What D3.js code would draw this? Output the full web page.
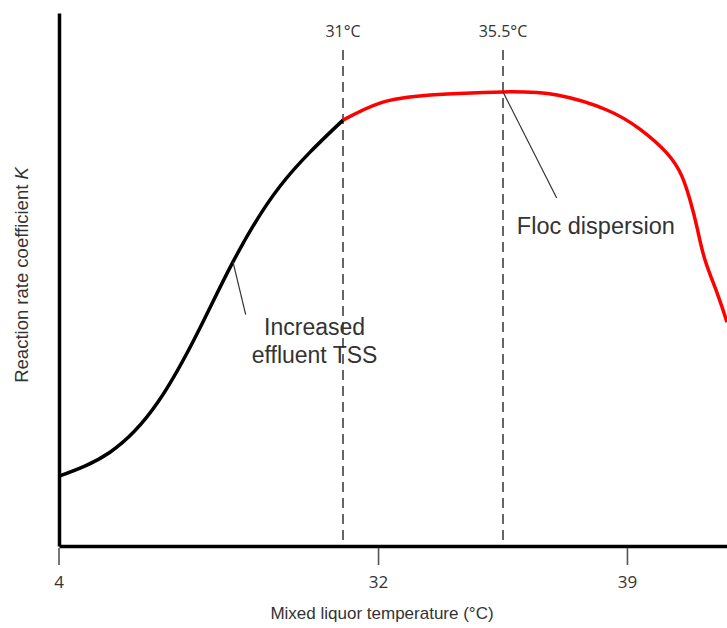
<!DOCTYPE html>
<html>
<head>
<meta charset="utf-8">
<script src="https://cdn.jsdelivr.net/npm/d3@7"></script>
<style>
  body { margin: 0; background: #fff; }
  svg { display: block; }
  .label { font-family: "Liberation Sans", Arial, sans-serif; fill: #333; }
  .tick-label { font-family: "Open Sans", sans-serif; fill: #333; }
</style>
</head>
<body>
<svg id="chart"></svg>
<script>
// Reaction rate vs temperature (schematic)

const width = 727;
const height = 628;

// rising part, black (temperature °C, K)
const riseTemp = [4, 8.85, 13.41, 17.40, 20.54, 25.01, 31];
const riseK    = [13.1, 17.6, 27.0, 40.9, 53.3, 67.5, 79.9];

// plateau and drop, red
const dropTemp = [31, 32.04, 33.45, 35.5, 37.02, 38.42, 39.35, 40.11, 40.53, 40.76, 40.96, 41.18, 41.52, 41.8];
const dropK    = [79.9, 83.1, 84.6, 85.2, 84.6, 81.8, 78.2, 73.7, 69.4, 64.9, 59.7, 53.7, 47.5, 42.0];

const xTicks = [4, 32, 39];
const markers = [31, 35.5];
const markerLabels = ["31°C", "35.5°C"];

const svg = d3.select("#chart")
    .attr("width", width)
    .attr("height", height);

// x is broken: the 4-31 range is squeezed
const x = d3.scaleLinear()
    .domain([4, 31, 41.8])
    .range([59, 343, 727]);

const y = d3.scaleLinear()
    .domain([0, 100])
    .range([546, 13]);

const rise = riseTemp.map((t, i) => [t, riseK[i]]);
const drop = dropTemp.map((t, i) => [t, dropK[i]]);

// dashed marker lines
svg.selectAll(".marker")
    .data(markers)
    .enter()
    .append("line")
    .attr("class", "marker")
    .attr("x1", d => x(d))
    .attr("x2", d => x(d))
    .attr("y1", 50)
    .attr("y2", y(0))
    .attr("stroke", "#555")
    .attr("stroke-width", 1.8)
    .attr("stroke-dasharray", "10,6");

svg.selectAll(".marker-label")
    .data(markers)
    .enter()
    .append("text")
    .attr("class", "tick-label")
    .attr("x", d => x(d))
    .attr("y", 37)
    .style("text-anchor", "middle")
    .style("font-size", "16px")
    .text((d, i) => markerLabels[i]);

const line = d3.line()
    .x(d => x(d[0]))
    .y(d => y(d[1]))
    .curve(d3.curveNatural);

svg.append("path")
    .datum(rise)
    .attr("d", line)
    .attr("fill", "none")
    .attr("stroke", "#000")
    .attr("stroke-width", 3.5);

svg.append("path")
    .datum(drop)
    .attr("d", line)
    .attr("fill", "none")
    .attr("stroke", "#ff0000")
    .attr("stroke-width", 3.5);

// annotation leader lines
const leaders = [
    [[20.54, 53.3], [21.75, 43.4]],
    [[35.5, 85.2], [37.01, 65.3]]
];
svg.selectAll(".leader")
    .data(leaders)
    .enter()
    .append("line")
    .attr("x1", d => x(d[0][0]))
    .attr("y1", d => y(d[0][1]))
    .attr("x2", d => x(d[1][0]))
    .attr("y2", d => y(d[1][1]))
    .attr("stroke", "#333")
    .attr("stroke-width", 1.2);

const tss = svg.append("text")
    .attr("class", "label")
    .attr("x", x(28.3))
    .attr("y", y(39.6))
    .style("text-anchor", "middle")
    .style("font-size", "23px");
tss.append("tspan").attr("x", x(28.3)).text("Increased");
tss.append("tspan").attr("x", x(28.3)).attr("dy", 28).text("effluent TSS");

svg.append("text")
    .attr("class", "label")
    .attr("x", x(35.89))
    .attr("y", y(58.5))
    .style("font-size", "23.5px")
    .text("Floc dispersion");

// axes
const xAxis = d3.axisBottom(x).tickValues(xTicks).tickSize(0).tickSizeOuter(0).tickFormat(d => d);
const gx = svg.append("g")
    .attr("transform", "translate(0," + y(0) + ")")
    .call(xAxis);
gx.select(".domain").attr("stroke", "#000").attr("stroke-width", 3.5);
gx.selectAll(".tick line").remove();
gx.selectAll(".tick text").remove();

svg.selectAll(".x-tick")
    .data(xTicks)
    .enter()
    .append("line")
    .attr("x1", d => x(d))
    .attr("x2", d => x(d))
    .attr("y1", y(0) + 2)
    .attr("y2", y(0) + 19)
    .attr("stroke", "#555")
    .attr("stroke-width", 1.6);

svg.selectAll(".x-tick-label")
    .data(xTicks)
    .enter()
    .append("text")
    .attr("class", "tick-label")
    .attr("x", d => x(d))
    .attr("y", 588)
    .style("text-anchor", "middle")
    .style("font-size", "17px")
    .text(d => d);

const yAxis = d3.axisLeft(y).tickValues([]).tickSizeOuter(0);
const gy = svg.append("g")
    .attr("transform", "translate(" + x(4) + ",0)")
    .call(yAxis);
gy.select(".domain").attr("stroke", "#000").attr("stroke-width", 3.5);

svg.append("text")
    .attr("class", "label")
    .attr("x", 382)
    .attr("y", 619)
    .style("text-anchor", "middle")
    .style("font-size", "17px")
    .text("Mixed liquor temperature (°C)");

const yl = svg.append("text")
    .attr("class", "label")
    .attr("transform", "translate(28,275) rotate(-90)")
    .style("text-anchor", "middle")
    .style("font-size", "18.5px")
    .text("Reaction rate coefficient ");
yl.append("tspan").style("font-style", "italic").text("K");
</script>
</body>
</html>
